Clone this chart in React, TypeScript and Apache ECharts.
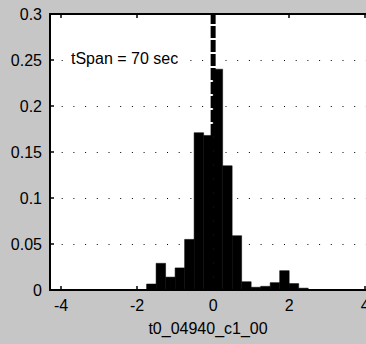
import React, { useEffect, useRef } from "react";
import * as echarts from "echarts";

const binCenters = [-1.625, -1.375, -1.125, -0.875, -0.625, -0.375, -0.125, 0.125, 0.375, 0.625, 0.875, 1.125, 1.375, 1.625, 1.875, 2.125, 2.375];
const binValues = [0.0065, 0.029, 0.014, 0.024, 0.055, 0.171, 0.168, 0.24, 0.135, 0.059, 0.009, 0.003, 0.004, 0.008, 0.021, 0.007, 0.002];
const binWidth = 0.25;
const xTicks = [-4, -2, 0, 2, 4];
const markerX = 0;
const markerTop = 0.3;
const annotation = "tSpan = 70 sec";
const xName = "t0_04940_c1_00";

export default function App() {
  const ref = useRef<HTMLDivElement>(null);
  useEffect(() => {
    if (!ref.current) return;
    const chart = echarts.init(ref.current, null, { renderer: "svg" });
    const font = "Liberation Sans, Arial, sans-serif";
    const data = binCenters.map((c, i) => [c - binWidth / 2, c + binWidth / 2, binValues[i]]);
    const xCommon = {
      type: "value",
      min: -4.29,
      max: 4.02,
    };
    chart.setOption({
      animation: false,
      backgroundColor: "#c6c6c6",
      grid: {
        left: 50,
        top: 14,
        right: 0,
        height: 276,
        show: true,
        backgroundColor: "#ffffff",
        borderWidth: 0,
        outerBoundsMode: "none",
        containLabel: false,
      },
      xAxis: [
        {
          ...xCommon,
          position: "bottom",
          axisLine: { show: true, onZero: false, lineStyle: { color: "#000", width: 2 } },
          axisTick: { show: true, inside: true, length: 4, customValues: xTicks, lineStyle: { color: "#000", width: 1.5 } },
          axisLabel: { customValues: xTicks, color: "#000", fontSize: 16, fontFamily: font, margin: 7, showMaxLabel: true },
          splitLine: { show: false },
          name: xName,
          nameLocation: "middle",
          nameGap: 30,
          nameTextStyle: { color: "#000", fontSize: 16, fontFamily: font },
        },
        {
          ...xCommon,
          position: "top",
          axisLine: { show: true, onZero: false, lineStyle: { color: "#000", width: 2 } },
          axisTick: { show: true, inside: true, length: 4, customValues: xTicks, lineStyle: { color: "#000", width: 1.5 } },
          axisLabel: { show: false },
          splitLine: { show: false },
        },
      ],
      yAxis: {
        type: "value",
        min: 0,
        max: 0.3,
        interval: 0.05,
        axisLine: { show: true, onZero: false, lineStyle: { color: "#000", width: 2 } },
        axisTick: { show: true, inside: true, length: 4, lineStyle: { color: "#000", width: 1.5 } },
        axisLabel: { color: "#000", fontSize: 16, fontFamily: font, margin: 8 },
        splitLine: { show: true, lineStyle: { color: "#000", width: 1, type: [1, 10.7] } },
      },
      series: [
        {
          type: "custom",
          xAxisIndex: 0,
          data,
          renderItem: (params: any, api: any) => {
            const p0 = api.coord([api.value(0), api.value(2)]);
            const p1 = api.coord([api.value(1), 0]);
            return {
              type: "rect",
              shape: { x: p0[0], y: p0[1], width: p1[0] - p0[0], height: p1[1] - p0[1] },
              style: { fill: "#000", stroke: "#000", lineWidth: 0.5 },
            };
          },
          z: 2,
        },
        {
          type: "line",
          xAxisIndex: 0,
          data: [[markerX, 0], [markerX, markerTop]],
          symbol: "none",
          lineStyle: { color: "#000", width: 5, type: [12, 2] },
          z: 3,
        },
      ],
      graphic: [
        {
          type: "text",
          x: 68,
          y: 58,
          style: {
            text: annotation,
            fill: "#000",
            fontSize: 16,
            fontFamily: font,
            verticalAlign: "middle",
            backgroundColor: "#fff",
            padding: [1, 3],
          },
          z: 10,
        },
      ],
    });
    return () => chart.dispose();
  }, []);
  return <div ref={ref} style={{ position: "fixed", left: 0, top: 0, width: 366, height: 344 }} />;
}
